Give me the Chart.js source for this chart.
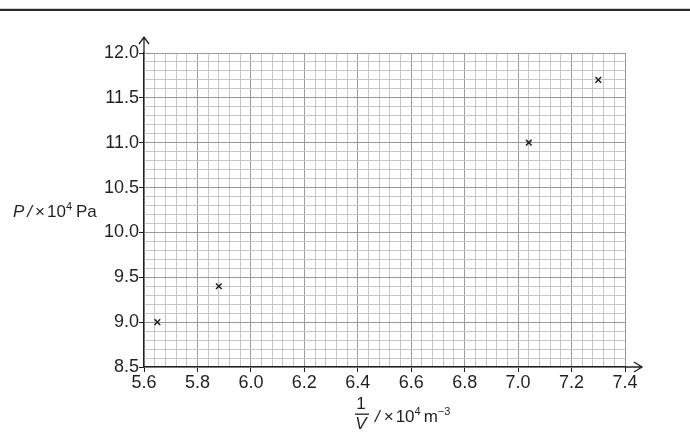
<!DOCTYPE html>
<html>
<head>
<meta charset="utf-8">
<script src="https://cdn.jsdelivr.net/npm/chart.js@4"></script>
<style>
  html, body { margin: 0; padding: 0; background: #fff; }
  #wrap { width: 690px; height: 438px; position: relative; }
</style>
</head>
<body>
<div id="wrap"><canvas id="chartCanvas" width="690" height="438"></canvas></div>
<script>
// 1/V (x10^4 m^-3) and P (x10^4 Pa)
var invV = [5.65, 5.88, 7.04, 7.30];
var pressure = [9.0, 9.4, 11.0, 11.7];

var xMin = 5.6, xMax = 7.4, xStep = 0.04, xMajor = 0.2;
var yMin = 8.5, yMax = 12.0, yStep = 0.1, yMajor = 0.5;

var ink = "#231f20";
var labelFont = "Liberation Sans, Arial, sans-serif";

function isMajor(v, m) {
  var r = v / m;
  return Math.abs(r - Math.round(r)) < 1e-6;
}

var points = [];
for (var i = 0; i < invV.length; i++) {
  points.push({ x: invV[i], y: pressure[i] });
}

// draw text pieces left to right, returns end x
function runText(c, parts, x, y) {
  for (var i = 0; i < parts.length; i++) {
    var p = parts[i];
    c.font = p.f;
    c.fillText(p.t, x, y - (p.up || 0));
    x += c.measureText(p.t).width + (p.gap || 0);
  }
  return x;
}

// axis arrows, top rule and axis titles
var decor = {
  id: "decor",
  afterDraw: function (chart) {
    var c = chart.ctx;
    var a = chart.chartArea;
    c.save();

    // rule along the top of the page
    c.fillStyle = "#d0d0d0";
    c.fillRect(0, 8, 690, 1);
    c.fillStyle = "#2a2a2a";
    c.fillRect(0, 9, 690, 2);

    c.strokeStyle = ink;
    c.lineWidth = 1.3;
    // y axis extension + arrow
    c.beginPath();
    c.moveTo(a.left, a.top);
    c.lineTo(a.left, a.top - 16);
    c.moveTo(a.left - 5, a.top - 9);
    c.lineTo(a.left, a.top - 16);
    c.lineTo(a.left + 5, a.top - 9);
    // x axis extension + arrow
    c.moveTo(a.right, a.bottom);
    c.lineTo(a.right + 17, a.bottom);
    c.moveTo(a.right + 9, a.bottom - 5);
    c.lineTo(a.right + 17, a.bottom);
    c.lineTo(a.right + 9, a.bottom + 5);
    c.stroke();

    c.fillStyle = ink;
    c.textBaseline = "alphabetic";
    c.textAlign = "left";

    var it = "italic 17px " + labelFont;
    var rg = "17px " + labelFont;
    var sm = "11px " + labelFont;

    // y title: P / x 10^4 Pa
    runText(c, [
      { t: "P", f: it, gap: 3 },
      { t: "/", f: it, gap: 3 },
      { t: "\u00d7", f: rg, gap: 2 },
      { t: "10", f: rg, gap: 0 },
      { t: "4", f: sm, up: 7, gap: 4 },
      { t: "Pa", f: rg },
    ], 13, 217);

    // x title: 1/V / x 10^4 m^-3
    c.textAlign = "center";
    c.font = rg;
    c.fillText("1", 361, 409);
    c.fillRect(355, 413.5, 14, 1.3);
    c.font = it;
    c.fillText("V", 361, 429);
    c.textAlign = "left";
    runText(c, [
      { t: "/", f: it, gap: 4 },
      { t: "\u00d7", f: rg, gap: 2 },
      { t: "10", f: rg, gap: 0 },
      { t: "4", f: sm, up: 7, gap: 3 },
      { t: "m", f: rg, gap: 0 },
      { t: "\u22123", f: sm, up: 7 },
    ], 375, 422);

    c.restore();
  },
};

var ctx = document.getElementById("chartCanvas").getContext("2d");

var chart = new Chart(ctx, {
  type: "scatter",
  data: {
    datasets: [
      {
        label: "P",
        data: points,
        pointStyle: "crossRot",
        pointRadius: 4,
        pointHoverRadius: 4,
        pointBorderWidth: 1.5,
        borderColor: ink,
        backgroundColor: ink,
      },
    ],
  },
  options: {
    responsive: false,
    animation: false,
    events: [],
    layout: {
      padding: { left: 0, top: 53, right: 65, bottom: 0 },
    },
    plugins: {
      legend: { display: false },
      tooltip: { enabled: false },
    },
    scales: {
      x: {
        type: "linear",
        min: xMin,
        max: xMax,
        afterFit: function (scale) {
          scale.height = 71;
        },
        border: { color: ink, width: 1.3, z: 1 },
        grid: {
          color: function (c) {
            return isMajor(c.tick.value, xMajor) ? "#9a9a9a" : "#c6c6c6";
          },
          tickColor: function (c) {
            return isMajor(c.tick.value, xMajor) ? ink : "rgba(0,0,0,0)";
          },
          lineWidth: 1,
          tickLength: 5,
        },
        ticks: {
          stepSize: xStep,
          autoSkip: false,
          maxRotation: 0,
          padding: 0,
          color: ink,
          font: { family: labelFont, size: 18 },
          callback: function (v) {
            return isMajor(v, xMajor) ? v.toFixed(1) : "";
          },
        },
      },
      y: {
        type: "linear",
        min: yMin,
        max: yMax,
        afterFit: function (scale) {
          scale.width = 144;
        },
        border: { color: ink, width: 1.3, z: 1 },
        grid: {
          color: function (c) {
            return isMajor(c.tick.value, yMajor) ? "#9a9a9a" : "#c6c6c6";
          },
          tickColor: function (c) {
            return isMajor(c.tick.value, yMajor) ? ink : "rgba(0,0,0,0)";
          },
          lineWidth: 1,
          tickLength: 5,
        },
        ticks: {
          stepSize: yStep,
          autoSkip: false,
          padding: 0,
          color: ink,
          font: { family: labelFont, size: 18 },
          callback: function (v) {
            return isMajor(v, yMajor) ? v.toFixed(1) : "";
          },
        },
      },
    },
  },
  plugins: [decor],
});
</script>
</body>
</html>
